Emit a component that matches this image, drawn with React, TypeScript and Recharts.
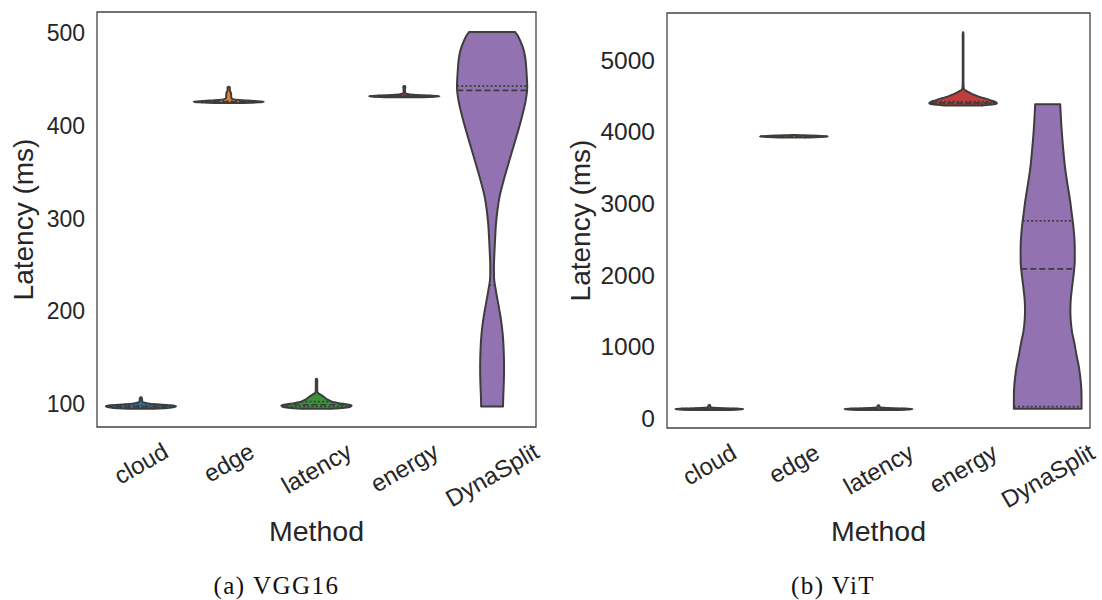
import React from 'react';
import { ComposedChart, Area, XAxis, YAxis, ReferenceLine, ReferenceArea, Label } from 'recharts';

// ---------- data ----------
const methods = ['cloud', 'edge', 'latency', 'energy', 'DynaSplit'];
const palette = ['#3274a1', '#e1812c', '#3a923a', '#c03d3e', '#9372b2'];

// Violin profiles: [latency (ms), relative half-width of density (0..1)]
// (a) VGG16
const vggCloud = [[94.6, 0.35], [95.5, 0.75], [96.5, 0.95], [97.5, 1.0], [98.5, 0.8], [99.5, 0.45], [100.5, 0.2], [101.5, 0.08], [102.5, 0.04], [104, 0.035], [106, 0.03], [107, 0.01]];
const vggEdge = [[424.8, 0.4], [425.5, 0.85], [426.2, 1.0], [427, 0.7], [428, 0.3], [429, 0.12], [430, 0.08], [432, 0.07], [434, 0.07], [436, 0.06], [438, 0.035], [440, 0.03], [441.5, 0.035], [442.3, 0.01]];
const vggLatency = [[94.8, 0.4], [95.8, 0.8], [97, 0.97], [98.2, 1.0], [99.3, 0.88], [100.5, 0.68], [101.7, 0.5], [103, 0.4], [104.5, 0.32], [106, 0.26], [108, 0.19], [110, 0.11], [111.5, 0.05], [113, 0.025], [117, 0.02], [122, 0.02], [126, 0.02], [127, 0.005]];
const vggEnergy = [[430.9, 0.4], [431.5, 0.85], [432.1, 1.0], [432.8, 0.7], [433.6, 0.25], [434.5, 0.08], [435.5, 0.03], [437, 0.02], [439, 0.02], [441, 0.025], [442.3, 0.03], [443, 0.01]];
const vggDyna = [[97, 0.31], [110, 0.32], [125, 0.335], [140, 0.34], [158, 0.33], [176, 0.3], [194, 0.24], [210, 0.165], [224, 0.1], [236, 0.055], [248, 0.052], [262, 0.065], [278, 0.085], [294, 0.11], [310, 0.155], [325, 0.22], [340, 0.32], [356, 0.44], [374, 0.58], [392, 0.72], [410, 0.85], [426, 0.95], [442, 1.0], [458, 0.98], [472, 0.95], [482, 0.9], [492, 0.8], [498, 0.72], [501.5, 0.65]];
// quartiles [Q1, median, Q3]
const vggQuartiles = [[95.9, 96.9, 98.3], [425.4, 426.0, 426.8], [97.3, 99.0, 102.5], [431.6, 432.1, 432.7], [228, 438.5, 443]];
const vggTicks = [100, 200, 300, 400, 500];
const vggDomain = [75, 523];

// (b) ViT
const vitCloud = [[112, 0.4], [120, 0.9], [127, 1.0], [134, 0.6], [142, 0.15], [150, 0.04], [165, 0.03], [178, 0.02], [183, 0.005]];
const vitEdge = [[3920, 0.3], [3928, 0.8], [3935, 1.0], [3942, 0.8], [3950, 0.3], [3956, 0.05]];
const vitLatency = [[112, 0.4], [120, 0.9], [127, 1.0], [134, 0.6], [142, 0.15], [150, 0.04], [162, 0.03], [172, 0.02], [177, 0.005]];
const vitEnergy = [[4368, 0.55], [4383, 0.9], [4400, 1.0], [4415, 0.96], [4430, 0.88], [4450, 0.76], [4472, 0.6], [4495, 0.44], [4520, 0.31], [4545, 0.2], [4565, 0.12], [4580, 0.06], [4600, 0.025], [4650, 0.012], [4800, 0.01], [5000, 0.01], [5200, 0.01], [5350, 0.012], [5390, 0.004]];
const vitDyna = [[130, 1.0], [280, 1.0], [437, 0.99], [580, 0.96], [717, 0.92], [880, 0.85], [1043, 0.79], [1200, 0.72], [1369, 0.68], [1500, 0.67], [1648, 0.68], [1830, 0.72], [2021, 0.77], [2200, 0.8], [2346, 0.8], [2500, 0.79], [2672, 0.76], [2860, 0.71], [3045, 0.66], [3280, 0.58], [3510, 0.51], [3750, 0.46], [3976, 0.42], [4200, 0.39], [4385, 0.37]];
const vitQuartiles = [[118, 124, 130], [3929, 3935, 3941], [118, 124, 130], [4392, 4405, 4420], [158, 2085, 2756]];
const vitTicks = [0, 1000, 2000, 3000, 4000, 5000];
const vitDomain = [-140, 5660];

// ---------- styling ----------
const HALF = 0.4;
const OUTLINE = '#3d3d3d';
const TEXT = '#262626';
const SANS = '"Liberation Sans", Arial, sans-serif';

let measureCtx: CanvasRenderingContext2D | null = null;
function textWidth(s: string, size: number): number {
  try {
    if (!measureCtx) measureCtx = document.createElement('canvas').getContext('2d');
    if (measureCtx) {
      measureCtx.font = `${size}px "Liberation Sans"`;
      return measureCtx.measureText(s).width;
    }
  } catch (e) {}
  return s.length * size * 0.52;
}

function widthAt(profile: number[][], y: number): number {
  for (let k = 0; k < profile.length - 1; k++) {
    const [y0, w0] = profile[k];
    const [y1, w1] = profile[k + 1];
    if (y >= y0 && y <= y1) return w0 + ((w1 - w0) * (y - y0)) / (y1 - y0);
  }
  return 0;
}

const MethodTick = (props: any) => {
  const { x, y, payload, fontSize } = props;
  const label = methods[payload.value];
  if (!label) return null;
  const w = textWidth(label, fontSize);
  const h = fontSize * 1.15;
  const bboxH = w * 0.5 + h * 0.866;
  const cy = y + 10 + bboxH / 2;
  return (
    <text x={x} y={cy} textAnchor="middle" dominantBaseline="central" transform={`rotate(-30, ${x}, ${cy})`}
      fontSize={fontSize} fontFamily={SANS} fill={TEXT}>{label}</text>
  );
};

type PanelProps = {
  profiles: number[][][];
  quartiles: number[][];
  ticks: number[];
  domain: number[];
  width: number;
  height: number;
  yAxisWidth: number;
  xAxisHeight: number;
  margin: { top: number; right: number; left: number; bottom: number };
  yTickSize: number;
  xTickSize: number;
  yLabelBaseline: number;
  xLabelBaseline: number;
};

function Panel(p: PanelProps) {
  const violins = p.profiles.map((prof, i) => prof.map(([y, w]) => ({ y, band: [i - HALF * w, i + HALF * w] })));
  const yLabel = (props: any) => {
    const vb = props.viewBox || { x: 0, y: 0, width: 0, height: 0 };
    const cx = vb.x + p.yLabelBaseline;
    const cy = vb.y + vb.height / 2;
    return (
      <text x={cx} y={cy} transform={`rotate(-90, ${cx}, ${cy})`} textAnchor="middle" fontSize={28}
        fontFamily={SANS} fill={TEXT}>Latency (ms)</text>
    );
  };
  const xLabel = (props: any) => {
    const vb = props.viewBox || { x: 0, y: 0, width: 0, height: 0 };
    return (
      <text x={vb.x + vb.width / 2} y={vb.y + p.xLabelBaseline} textAnchor="middle" fontSize={28.5}
        fontFamily={SANS} fill={TEXT}>Method</text>
    );
  };
  return (
    <ComposedChart width={p.width} height={p.height} layout="vertical" margin={p.margin}>
      <XAxis type="number" domain={[-0.5, 4.5]} ticks={[0, 1, 2, 3, 4]} interval={0} allowDataOverflow
        axisLine={false} tickLine={false} tickSize={0} tickMargin={0} height={p.xAxisHeight}
        tick={<MethodTick fontSize={p.xTickSize} />}>
        <Label content={xLabel} />
      </XAxis>
      <YAxis type="number" dataKey="y" domain={p.domain} ticks={p.ticks} interval={0} allowDataOverflow reversed
        axisLine={false} tickLine={false} tickSize={0} tickMargin={12} width={p.yAxisWidth}
        tick={{ fontSize: p.yTickSize, fontFamily: SANS, fill: TEXT }}>
        <Label content={yLabel} />
      </YAxis>
      {violins.map((data, i) => (
        <Area key={`v${i}`} data={data} dataKey="band" type="monotone" fill={palette[i]} fillOpacity={1}
          stroke={OUTLINE} strokeWidth={2} strokeLinejoin="round" dot={false} activeDot={false}
          isAnimationActive={false} />
      ))}
      {p.profiles.map((prof, i) => {
        const first = prof[0];
        const last = prof[prof.length - 1];
        return [first, last].map(([y, w], k) => (
          <ReferenceLine key={`c${i}-${k}`} ifOverflow="visible"
            segment={[{ x: i - HALF * w, y }, { x: i + HALF * w, y }]}
            stroke={OUTLINE} strokeWidth={2} strokeLinecap="round" />
        ));
      })}
      {p.quartiles.map((qs, i) =>
        qs.map((q, k) => {
          const w = widthAt(p.profiles[i], q);
          return (
            <ReferenceLine key={`q${i}-${k}`} ifOverflow="visible"
              segment={[{ x: i - HALF * w, y: q }, { x: i + HALF * w, y: q }]}
              stroke={OUTLINE} strokeWidth={1.7} strokeDasharray={k === 1 ? '6 3' : '2 2.2'} />
          );
        })
      )}
      <ReferenceArea x1={-0.5} x2={4.5} y1={p.domain[0]} y2={p.domain[1]} ifOverflow="visible"
        fill="none" fillOpacity={0} stroke="#444" strokeWidth={1.3} />
    </ComposedChart>
  );
}

export default function App() {
  return (
    <div style={{ position: 'absolute', left: 0, top: 0, width: 1102, height: 600, background: '#fff', overflow: 'hidden' }}>
      <div style={{ position: 'absolute', left: 0, top: 0 }}>
        <Panel profiles={[vggCloud, vggEdge, vggLatency, vggEnergy, vggDyna]} quartiles={vggQuartiles}
          ticks={vggTicks} domain={vggDomain} width={550} height={600} yAxisWidth={97} xAxisHeight={173}
          margin={{ top: 12, right: 14, left: 0, bottom: 0 }} yTickSize={23} xTickSize={24}
          yLabelBaseline={32.7} xLabelBaseline={114} />
      </div>
      <div style={{ position: 'absolute', left: 550, top: 0 }}>
        <Panel profiles={[vitCloud, vitEdge, vitLatency, vitEnergy, vitDyna]} quartiles={vitQuartiles}
          ticks={vitTicks} domain={vitDomain} width={552} height={600} yAxisWidth={117} xAxisHeight={172}
          margin={{ top: 13, right: 12, left: 0, bottom: 0 }} yTickSize={24.5} xTickSize={24}
          yLabelBaseline={39.8} xLabelBaseline={113} />
      </div>
      <svg width={1102} height={600} style={{ position: 'absolute', left: 0, top: 0, pointerEvents: 'none' }}>
        <text x={276.5} y={594} textAnchor="middle" fontSize={25} letterSpacing={1.5}
          fontFamily='"Liberation Serif", serif' fill="#111">(a) VGG16</text>
        <text x={833} y={594} textAnchor="middle" fontSize={25} letterSpacing={1.5}
          fontFamily='"Liberation Serif", serif' fill="#111">(b) ViT</text>
      </svg>
    </div>
  );
}
